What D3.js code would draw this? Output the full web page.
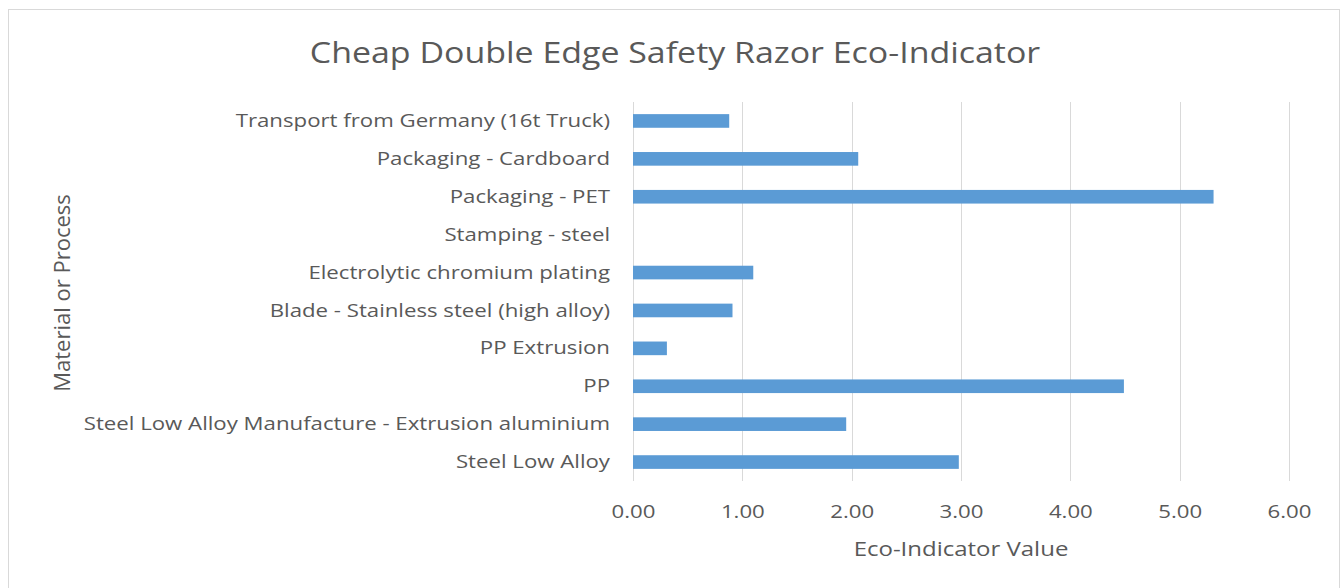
<!DOCTYPE html>
<html>
<head>
<meta charset="utf-8">
<script src="https://cdn.jsdelivr.net/npm/d3@7"></script>
<style>
  body { margin: 0; background: #fff; }
  svg text { font-family: "Open Sans", sans-serif; fill: #595959; }
</style>
</head>
<body>
<svg id="chart" width="1341" height="588"></svg>
<script>
// categories listed bottom to top, like the source sheet
const categories = [
  'Steel Low Alloy',
  'Steel Low Alloy Manufacture - Extrusion aluminium',
  'PP',
  'PP Extrusion',
  'Blade - Stainless steel (high alloy)',
  'Electrolytic chromium plating',
  'Stamping - steel',
  'Packaging - PET',
  'Packaging - Cardboard',
  'Transport from Germany (16t Truck)'
];
const ecoValues = [2.98, 1.95, 4.49, 0.31, 0.91, 1.10, 0, 5.31, 2.06, 0.88];
const xTicks = [0, 1, 2, 3, 4, 5, 6];

// the source screenshot is stretched sideways, so text is widened to match
const sx = 1.17;

const chart = d3.select('#chart');
const width = +chart.attr('width');
const height = +chart.attr('height');

// outer chart frame (bottom edge runs off the picture)
chart.append('rect')
  .attr('x', 8.5).attr('y', 9.5)
  .attr('width', width - 10).attr('height', height + 20)
  .attr('fill', '#fff')
  .attr('stroke', '#d9d9d9');

const plot = { left: 633, right: 1289, top: 102, bottom: 481 };

const x = d3.scaleLinear().domain([0, 6]).range([plot.left, plot.right]);
const y = d3.scaleBand()
  .domain(categories.slice().reverse())
  .range([plot.top, plot.bottom])
  .paddingInner(0.64)
  .paddingOuter(0.32);

// vertical gridlines
chart.append('g')
  .selectAll('line')
  .data(xTicks)
  .join('line')
  .attr('x1', d => Math.round(x(d)) + 0.5)
  .attr('x2', d => Math.round(x(d)) + 0.5)
  .attr('y1', plot.top)
  .attr('y2', plot.bottom)
  .attr('stroke', '#d9d9d9');

// bars
chart.append('g')
  .selectAll('rect')
  .data(categories)
  .join('rect')
  .attr('x', x(0))
  .attr('y', d => y(d))
  .attr('width', (d, i) => x(ecoValues[i]) - x(0))
  .attr('height', y.bandwidth())
  .attr('fill', '#5b9bd5');

// x axis labels
const xAxis = d3.axisBottom(x)
  .tickValues(xTicks)
  .tickFormat(d3.format('.2f'))
  .tickSize(0)
  .tickPadding(0);
const xg = chart.append('g')
  .attr('transform', `translate(0, ${plot.bottom + 24})`)
  .call(xAxis);
xg.select('.domain').remove();
xg.selectAll('text')
  .attr('font-size', 19)
  .attr('fill', '#595959')
  .attr('font-family', null)
  .attr('transform', `scale(${sx}, 1)`);

// y axis labels
const yAxis = d3.axisLeft(y).tickSize(0).tickPadding(23);
const yg = chart.append('g')
  .attr('transform', `translate(${plot.left}, 0)`)
  .call(yAxis);
yg.select('.domain').remove();
yg.selectAll('text')
  .attr('font-size', 19)
  .attr('fill', '#595959')
  .attr('font-family', null)
  .attr('x', 0)
  .attr('transform', `translate(-23, 0) scale(${sx}, 1)`);

// titles
chart.append('text')
  .attr('transform', `translate(675, 63) scale(${sx}, 1)`)
  .attr('text-anchor', 'middle')
  .attr('font-size', 29)
  .text('Cheap Double Edge Safety Razor Eco-Indicator');

chart.append('text')
  .attr('transform', `translate(961, 556) scale(${sx}, 1)`)
  .attr('text-anchor', 'middle')
  .attr('font-size', 20.5)
  .text('Eco-Indicator Value');

chart.append('text')
  .attr('transform', 'translate(70, 293) rotate(-90)')
  .attr('text-anchor', 'middle')
  .attr('font-size', 22)
  .text('Material or Process');
</script>
</body>
</html>
